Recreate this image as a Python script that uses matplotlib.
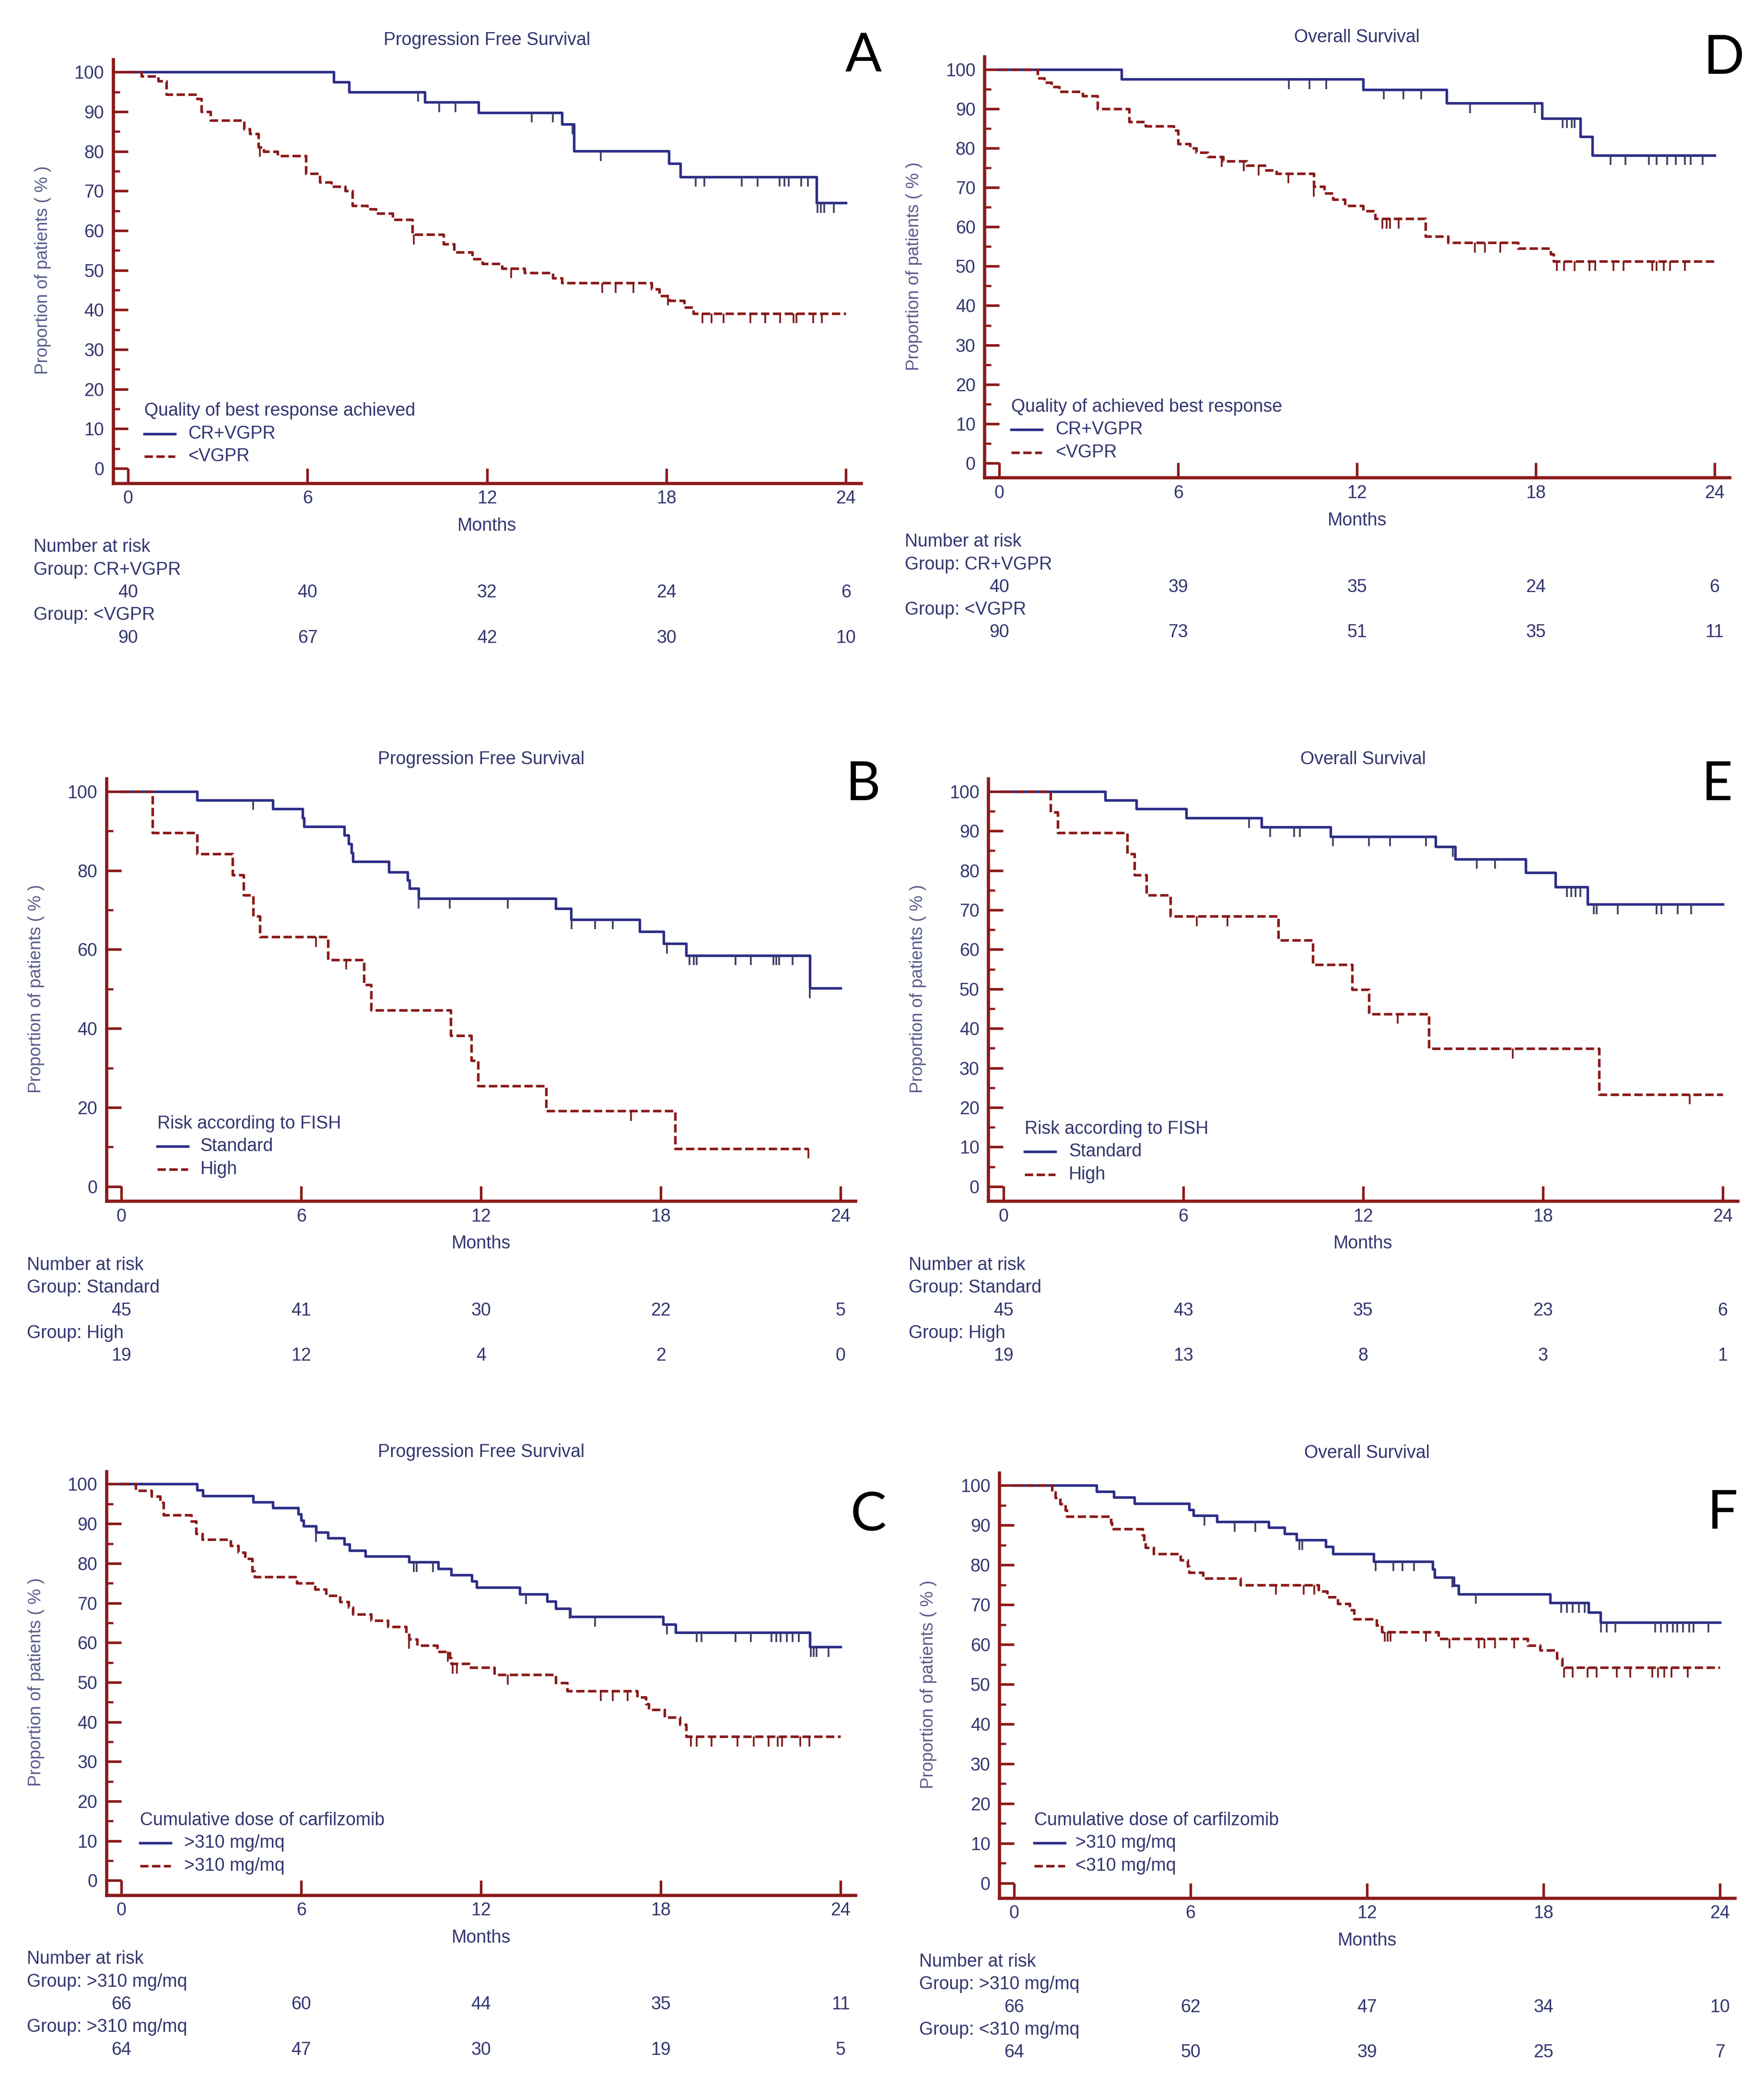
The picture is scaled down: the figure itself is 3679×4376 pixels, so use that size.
import numpy as np
import matplotlib.pyplot as plt
from matplotlib.ticker import MultipleLocator

# ---------------- data ----------------
MONTHS = [0, 6, 12, 18, 24]

# A : PFS by best response
a_blue_t = [6.88, 7.39, 9.92, 11.72, 14.5, 14.9, 18.08, 18.47, 23.01]
a_blue_s = [97.5, 95.0, 92.4, 89.8, 86.8, 80.1, 76.9, 73.6, 67.0]
a_blue_c = [9.7, 10.4, 10.95, 13.5, 14.2, 14.85, 15.8, 18.98, 19.26, 20.51, 21.04,
            21.79, 21.94, 22.09, 22.5, 22.73, 23.05, 23.16, 23.27, 23.59]
a_red_t = [0.45, 1.0, 1.28, 2.3, 2.45, 2.76, 3.88, 4.07, 4.35, 4.54, 5.0, 5.94, 6.41,
           6.79, 7.26, 7.5, 8.0, 8.29, 8.85, 9.5, 10.54, 10.9, 11.5, 11.85, 12.5, 13.26,
           14.2, 14.5, 17.5, 17.76, 18.1, 18.6, 18.9]
a_red_s = [98.9, 97.8, 94.4, 93.3, 90.0, 87.8, 85.6, 84.4, 81.1, 80.0, 78.9, 74.4, 72.2,
           71.1, 70.0, 66.3, 65.4, 64.3, 62.8, 59.0, 56.6, 54.5, 52.9, 51.7, 50.5, 49.3,
           48.0, 46.8, 45.2, 43.6, 42.4, 40.7, 39.1]
a_red_c = [4.4, 9.55, 12.8, 15.85, 16.3, 16.9, 18.05, 19.2, 19.5, 19.9, 20.8, 21.3,
           21.8, 22.25, 22.35, 22.9, 23.2]
a_risk_blue = [40, 40, 32, 24, 6]
a_risk_red = [90, 67, 42, 30, 10]

# D : OS by best response
d_blue_t = [4.09, 12.2, 15.0, 18.2, 19.5, 19.9]
d_blue_s = [97.5, 94.9, 91.4, 87.6, 82.9, 78.2]
d_blue_c = [9.71, 10.4, 10.97, 12.9, 13.56, 14.16, 15.8, 17.96, 18.9, 19.05, 19.2,
            19.3, 20.5, 21.0, 21.8, 22.06, 22.4, 22.7, 23.0, 23.2, 23.6]
d_red_t = [1.28, 1.5, 1.75, 2.0, 2.8, 3.3, 4.35, 4.9, 5.85, 6.0, 6.4, 6.6, 7.0, 7.5,
           8.3, 8.9, 9.3, 10.55, 10.9, 11.2, 11.6, 12.2, 12.6, 14.3, 15.05, 17.4,
           18.5, 18.6]
d_red_s = [97.8, 96.7, 95.6, 94.4, 93.3, 90.0, 86.7, 85.6, 84.5, 81.1, 80.0, 78.9,
           77.8, 76.7, 75.6, 74.4, 73.6, 70.2, 68.6, 67.0, 65.4, 64.0, 62.1, 57.6,
           56.0, 54.6, 53.1, 51.3]
d_red_c = [7.46, 8.2, 8.7, 9.7, 10.55, 12.85, 13.0, 13.1, 13.4, 15.95, 16.3, 16.8,
           18.7, 18.95, 19.3, 19.8, 20.0, 20.6, 20.95, 21.9, 22.05, 22.3, 22.5, 23.0]
d_risk_blue = [40, 39, 35, 24, 6]
d_risk_red = [90, 73, 51, 35, 11]

# B : PFS by FISH risk
b_blue_t = [2.53, 5.05, 6.05, 6.1, 7.43, 7.58, 7.68, 7.73, 8.93, 9.55, 9.62, 9.92,
            14.5, 15.0, 17.3, 18.1, 18.85, 22.97]
b_blue_s = [97.8, 95.6, 93.3, 91.1, 88.9, 86.7, 84.4, 82.2, 79.6, 77.5, 75.4, 72.9,
            70.4, 67.6, 64.5, 61.5, 58.5, 50.2]
b_blue_c = [4.4, 9.92, 10.95, 12.9, 15.02, 15.8, 16.4, 18.2, 18.95, 19.1, 19.2, 20.5,
            21.0, 21.75, 21.85, 21.95, 22.4, 22.97]
b_red_t = [1.03, 2.53, 3.71, 4.08, 4.4, 4.62, 6.89, 8.1, 8.33, 10.99, 11.67, 11.9,
           14.17, 18.48]
b_red_s = [89.5, 84.2, 78.9, 73.7, 68.4, 63.2, 57.4, 51.0, 44.6, 38.2, 31.9, 25.5,
           19.1, 9.6]
b_red_c = [6.5, 7.5, 17.0, 22.93]
b_red_end = 22.93
b_risk_blue = [45, 41, 30, 22, 5]
b_risk_red = [19, 12, 4, 2, 0]

# E : OS by FISH risk
e_blue_t = [3.39, 4.43, 6.1, 8.61, 10.92, 14.42, 15.07, 17.43, 18.42, 19.5]
e_blue_s = [97.8, 95.6, 93.3, 91.0, 88.6, 86.0, 82.9, 79.5, 75.8, 71.4]
e_blue_c = [8.2, 8.9, 9.7, 9.9, 11.0, 12.2, 12.9, 14.1, 15.0, 15.8, 16.4, 18.8,
            18.95, 19.1, 19.25, 19.7, 19.8, 20.5, 21.8, 21.95, 22.5, 22.95]
e_red_t = [1.58, 1.82, 4.13, 4.37, 4.78, 5.58, 9.17, 10.33, 11.63, 12.2, 14.2, 19.87]
e_red_s = [94.7, 89.5, 84.2, 78.9, 73.7, 68.4, 62.3, 56.1, 49.9, 43.7, 34.9, 23.3]
e_red_c = [6.46, 7.48, 13.15, 17.0, 22.9]
e_risk_blue = [45, 43, 35, 23, 6]
e_risk_red = [19, 13, 8, 3, 1]

# C : PFS by cumulative carfilzomib dose
c_blue_t = [2.53, 2.71, 4.4, 5.05, 5.9, 6.0, 6.08, 6.5, 6.9, 7.43, 7.62, 8.14, 9.6,
            10.58, 11.0, 11.7, 11.85, 13.3, 14.2, 14.5, 14.98, 18.07, 18.5, 22.97]
c_blue_s = [98.5, 97.0, 95.5, 94.0, 92.4, 90.9, 89.4, 87.9, 86.4, 84.8, 83.3, 81.8,
            80.3, 78.7, 77.1, 75.5, 73.9, 72.2, 70.4, 68.6, 66.5, 64.6, 62.6, 58.9]
c_blue_c = [6.5, 9.75, 9.85, 10.4, 13.5, 14.95, 15.8, 18.2, 19.2, 19.35, 20.5, 21.0,
            21.7, 21.85, 22.0, 22.2, 22.4, 22.6, 23.0, 23.1, 23.2, 23.6]
c_red_t = [0.47, 1.0, 1.3, 1.4, 2.34, 2.49, 2.7, 3.65, 3.9, 4.12, 4.36, 4.45, 5.86,
           6.46, 6.83, 7.3, 7.58, 7.73, 8.33, 8.9, 9.5, 9.6, 9.87, 10.54, 10.95, 11.0,
           11.6, 12.45, 14.5, 14.88, 17.22, 17.5, 17.6, 18.12, 18.63, 18.85]
c_red_s = [98.4, 96.9, 95.3, 92.2, 90.6, 87.5, 86.0, 84.4, 82.8, 81.2, 78.1, 76.6,
           75.0, 73.4, 71.9, 70.3, 68.8, 67.2, 65.6, 64.0, 62.5, 60.9, 59.3, 57.7,
           56.1, 54.7, 53.7, 51.9, 49.9, 47.8, 46.2, 44.6, 43.1, 41.2, 39.3, 36.3]
c_red_c = [9.6, 10.9, 11.05, 11.2, 12.9, 16.0, 16.4, 16.9, 19.0, 19.2, 19.7, 20.55,
           21.1, 21.6, 21.9, 22.05, 22.65, 22.95]
c_risk_blue = [66, 60, 44, 35, 11]
c_risk_red = [64, 47, 30, 19, 5]

# F : OS by cumulative carfilzomib dose
f_blue_t = [2.81, 3.39, 4.09, 5.95, 6.09, 6.9, 8.65, 9.19, 9.6, 10.6, 10.84, 12.23,
            14.23, 14.3, 14.95, 15.12, 18.22, 19.53, 19.93]
f_blue_s = [98.5, 97.0, 95.5, 93.9, 92.4, 90.9, 89.4, 87.9, 86.3, 84.6, 82.8, 80.9,
            78.9, 76.9, 74.8, 72.7, 70.5, 68.1, 65.5]
f_blue_c = [6.47, 7.5, 8.2, 9.7, 9.8, 12.3, 12.9, 13.2, 13.6, 14.9, 15.7, 18.6, 18.8,
            19.0, 19.2, 19.4, 19.96, 20.15, 20.45, 21.8, 22.0, 22.2, 22.4, 22.55,
            22.75, 22.95, 23.1, 23.6]
f_red_t = [1.29, 1.4, 1.56, 1.75, 1.8, 3.29, 3.33, 4.37, 4.42, 4.47, 4.75, 5.65, 5.9,
           5.95, 6.43, 7.7, 10.36, 10.65, 11.0, 11.41, 11.56, 12.32, 12.5, 14.42,
           17.46, 17.88, 18.45, 18.64]
f_red_s = [98.4, 96.9, 95.3, 93.8, 92.2, 90.6, 89.1, 87.5, 85.9, 84.4, 82.8, 81.2,
           79.7, 78.1, 76.6, 75.0, 73.4, 71.9, 70.3, 68.7, 66.4, 64.8, 63.2, 61.5,
           59.8, 58.6, 56.5, 54.2]
f_red_c = [8.9, 9.85, 10.2, 12.6, 12.7, 12.8, 14.0, 14.8, 15.8, 16.0, 16.35, 17.0,
           18.7, 19.0, 19.5, 19.8, 20.5, 20.95, 21.7, 21.9, 22.1, 22.35, 22.9]
f_risk_blue = [66, 62, 47, 34, 10]
f_risk_red = [64, 50, 39, 25, 7]

# ---------------- styling ----------------
BLUE, RED, AXC = "#2d2e88", "#8b1a1a", "#8b1a1a"
BLUE_CENS, RED_CENS = "#3a3b62", "#7a1818"
INK, YLAB = "#33366f", "#585c8c"
FONT = "Liberation Sans"
LW = 1.3
DASH = (0, (3.2, 1.35))

W, H = 1322.0, 1572.0         # layout measured on a 1322 px wide copy

fig = plt.figure(figsize=(3679 / 300, 4376 / 300), dpi=300)
fig.patch.set_facecolor("white")

PANELS = [
    # letter, title, legend title, labels, (x0, x24, y100, y0), legend (dx, dy, dtext),
    # letter position, y step, curves, numbers at risk
    ("A", "Progression Free Survival", "Quality of best response achieved",
     ("CR+VGPR", "<VGPR"), (96, 634, 54, 351), (12, 43, 45), (647, 42), 10,
     (a_blue_t, a_blue_s, a_blue_c, 24), (a_red_t, a_red_s, a_red_c, 24),
     a_risk_blue, a_risk_red),
    ("D", "Overall Survival", "Quality of achieved best response",
     ("CR+VGPR", "<VGPR"), (749, 1285, 52, 347), (9, 42, 42), (1292, 44), 10,
     (d_blue_t, d_blue_s, d_blue_c, 24), (d_red_t, d_red_s, d_red_c, 24),
     d_risk_blue, d_risk_red),
    ("B", "Progression Free Survival", "Risk according to FISH",
     ("Standard", "High"), (91, 630, 593, 889), (27, 47, 59), (647, 588), 20,
     (b_blue_t, b_blue_s, b_blue_c, 24), (b_red_t, b_red_s, b_red_c, b_red_end),
     b_risk_blue, b_risk_red),
    ("E", "Overall Survival", "Risk according to FISH",
     ("Standard", "High"), (752, 1291, 593, 889), (16, 43, 49), (1287, 588), 10,
     (e_blue_t, e_blue_s, e_blue_c, 24), (e_red_t, e_red_s, e_red_c, 24),
     e_risk_blue, e_risk_red),
    ("C", "Progression Free Survival", "Cumulative dose of carfilzomib",
     (">310 mg/mq", ">310 mg/mq"), (91, 630, 1112, 1409), (14, 45, 47), (651, 1135), 10,
     (c_blue_t, c_blue_s, c_blue_c, 24), (c_red_t, c_red_s, c_red_c, 24),
     c_risk_blue, c_risk_red),
    ("F", "Overall Survival", "Cumulative dose of carfilzomib",
     (">310 mg/mq", "<310 mg/mq"), (760, 1289, 1113, 1411), (15, 47, 46), (1291, 1134), 10,
     (f_blue_t, f_blue_s, f_blue_c, 24), (f_red_t, f_red_s, f_red_c, 24),
     f_risk_blue, f_risk_red),
]


def km(ax, t, s, c, end, color, ls, ccol):
    x = np.array([0] + list(t) + [end])
    y = np.array([100] + list(s) + [s[-1]])
    ax.step(x, y, where="post", color=color, lw=LW, ls=ls, zorder=3)
    idx = np.searchsorted(x, c, side="right") - 1
    cy = y[np.clip(idx, 0, len(y) - 1)]
    ax.vlines(c, cy - 2.5, cy, color=ccol, lw=0.85, zorder=3)


for (letter, title, ltitle, labels, (x0, x24, y100, y0), (ldx, ldy, ltx),
     (lx, ly), ystep, blue, red, rb, rr) in PANELS:
    ppm = (x24 - x0) / 24.0
    ppp = (y0 - y100) / 100.0
    left, right = x0 - 0.5 * ppm, x24 + 0.5 * ppm
    top, bottom = y100 - 3.2 * ppp, y0 + 3.7 * ppp
    ax = fig.add_axes([left / W, 1 - bottom / H, (right - left) / W, (bottom - top) / H])
    ax.set_xlim(-0.5, 24.5)
    ax.set_ylim(-3.7, 103.2)
    for sp in ["top", "right"]:
        ax.spines[sp].set_visible(False)
    for sp in ["left", "bottom"]:
        ax.spines[sp].set_color(AXC)
        ax.spines[sp].set_linewidth(1.6)
    ax.set_xticks(MONTHS)
    ax.set_yticks(np.arange(0, 101, ystep))
    ax.yaxis.set_minor_locator(MultipleLocator(ystep / 2))
    ax.tick_params(which="major", direction="in", length=7.4, width=1.3, color=AXC,
                   labelcolor=INK, labelsize=9)
    ax.tick_params(which="minor", direction="in", length=3.4, width=1.1, color=AXC)
    ax.tick_params(axis="x", pad=3.5)
    ax.tick_params(axis="y", pad=4.5)
    for lab in ax.get_xticklabels() + ax.get_yticklabels():
        lab.set_fontfamily(FONT)

    km(ax, *blue, BLUE, "-", BLUE_CENS)
    km(ax, *red, RED, DASH, RED_CENS)

    tk = dict(fontfamily=FONT, fontsize=9, color=INK, clip_on=False)
    ax.text(12, 100 + 24 / ppp, title, ha="center", va="center", **tk)
    ax.text(-64 / ppm, 50, "Proportion of patients ( % )", rotation=90, ha="center",
            va="center", fontfamily=FONT, fontsize=8.8, color=YLAB)
    ax.text(12, -43 / ppp, "Months", ha="center", va="center", **tk)

    # legend drawn by hand, MedCalc style
    ax.text(ldx / ppm, ldy / ppp, ltitle, ha="left", va="center", **tk)
    for k, (lab, col, ls) in enumerate([(labels[0], BLUE, "-"), (labels[1], RED, DASH)]):
        yy = (ldy - 17 * (k + 1)) / ppp
        ax.plot([ldx / ppm, (ldx + 23) / ppm], [yy, yy], color=col, lw=LW, ls=ls,
                clip_on=False)
        ax.text(ltx / ppm, yy, lab, ha="left", va="center", **tk)

    # number at risk table
    gx = -71 / ppm
    ax.text(gx, -59 / ppp, "Number at risk", ha="left", va="center", **tk)
    ax.text(gx, -76 / ppp, "Group: " + labels[0], ha="left", va="center", **tk)
    ax.text(gx, -110 / ppp, "Group: " + labels[1], ha="left", va="center", **tk)
    for m, n1, n2 in zip(MONTHS, rb, rr):
        ax.text(m, -93 / ppp, str(n1), ha="center", va="center", **tk)
        ax.text(m, -127 / ppp, str(n2), ha="center", va="center", **tk)

    fig.text(lx / W, 1 - ly / H, letter, ha="center", va="center",
             fontfamily="Lato", fontsize=27, color="black")

fig.savefig("out.png", dpi=300, facecolor="white")
